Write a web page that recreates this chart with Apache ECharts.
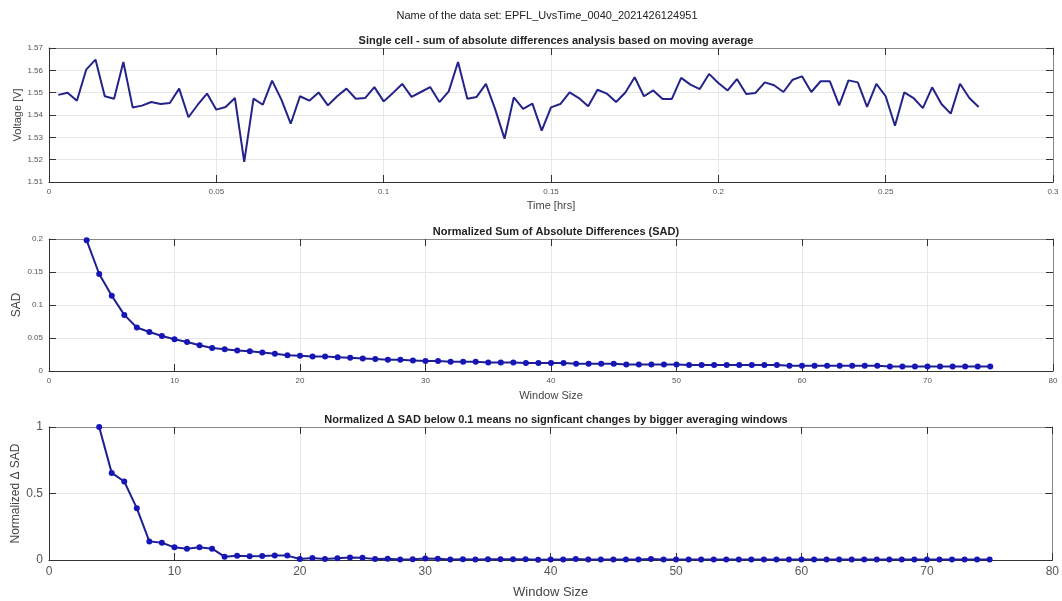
<!DOCTYPE html>
<html>
<head>
<meta charset="utf-8">
<title>SAD analysis</title>
<script src="https://cdn.jsdelivr.net/npm/echarts@6/dist/echarts.min.js"></script>
<style>
  html, body { margin: 0; padding: 0; background: #fff; }
  #chart { width: 1062px; height: 601px; }
</style>
</head>
<body>
<div id="chart"></div>
<script>
// sample times in seconds (10 s sampling), converted to hours below
const timeSec = [
  10, 20, 30, 40, 50, 60, 70, 80, 90, 100,
  110, 120, 130, 140, 150, 160, 170, 180, 190, 200,
  210, 220, 230, 240, 250, 260, 270, 280, 290, 300,
  310, 320, 330, 340, 350, 360, 370, 380, 390, 400,
  410, 420, 430, 440, 450, 460, 470, 480, 490, 500,
  510, 520, 530, 540, 550, 560, 570, 580, 590, 600,
  610, 620, 630, 640, 650, 660, 670, 680, 690, 700,
  710, 720, 730, 740, 750, 760, 770, 780, 790, 800,
  810, 820, 830, 840, 850, 860, 870, 880, 890, 900,
  910, 920, 930, 940, 950, 960, 970, 980, 990, 1000
];
const voltage = [
  1.5490, 1.5500, 1.5464, 1.5603, 1.5648, 1.5484, 1.5473, 1.5637, 1.5434, 1.5442,
  1.5458, 1.5449, 1.5454, 1.5518, 1.5390, 1.5446, 1.5496, 1.5424, 1.5436, 1.5476,
  1.5190, 1.5473, 1.5446, 1.5554, 1.5469, 1.5361, 1.5484, 1.5464, 1.5501, 1.5443,
  1.5484, 1.5518, 1.5473, 1.5476, 1.5525, 1.5461, 1.5499, 1.5539, 1.5481, 1.5503,
  1.5525, 1.5458, 1.5506, 1.5637, 1.5473, 1.5481, 1.5539, 1.5425, 1.5294, 1.5479,
  1.5427, 1.5451, 1.5330, 1.5434, 1.5449, 1.5501, 1.5476, 1.5439, 1.5513, 1.5496,
  1.5458, 1.5501, 1.5569, 1.5484, 1.5510, 1.5472, 1.5472, 1.5566, 1.5536, 1.5516,
  1.5584, 1.5543, 1.5510, 1.5561, 1.5494, 1.5499, 1.5546, 1.5533, 1.5503, 1.5558,
  1.5573, 1.5503, 1.5551, 1.5551, 1.5443, 1.5555, 1.5546, 1.5436, 1.5539, 1.5484,
  1.5352, 1.5501, 1.5476, 1.5431, 1.5524, 1.5449, 1.5406, 1.5540, 1.5476, 1.5436
];

const sadWindow = [
  3, 4, 5, 6, 7, 8, 9, 10, 11, 12, 13, 14, 15, 16, 17, 18, 19, 20,
  21, 22, 23, 24, 25, 26, 27, 28, 29, 30, 31, 32, 33, 34, 35, 36, 37, 38, 39, 40,
  41, 42, 43, 44, 45, 46, 47, 48, 49, 50, 51, 52, 53, 54, 55, 56, 57, 58, 59, 60,
  61, 62, 63, 64, 65, 66, 67, 68, 69, 70, 71, 72, 73, 74, 75
];
const sadValue = [
  0.198, 0.147, 0.114, 0.085, 0.066, 0.059, 0.053, 0.048, 0.044, 0.039, 0.035, 0.033,
  0.031, 0.030, 0.028, 0.026, 0.024, 0.023, 0.022, 0.022, 0.021, 0.020, 0.019, 0.018,
  0.017, 0.017, 0.016, 0.015, 0.015, 0.014, 0.014, 0.014, 0.013, 0.013, 0.013, 0.012,
  0.012, 0.012, 0.012, 0.011, 0.011, 0.011, 0.011, 0.010, 0.010, 0.010, 0.010, 0.010,
  0.009, 0.009, 0.009, 0.009, 0.009, 0.009, 0.009, 0.009, 0.008, 0.008, 0.008, 0.008,
  0.008, 0.008, 0.008, 0.008, 0.007, 0.007, 0.007, 0.007, 0.007, 0.007, 0.007, 0.007,
  0.007
];

const deltaWindow = [
  4, 5, 6, 7, 8, 9, 10, 11, 12, 13, 14, 15, 16, 17, 18, 19, 20,
  21, 22, 23, 24, 25, 26, 27, 28, 29, 30, 31, 32, 33, 34, 35, 36, 37, 38, 39, 40,
  41, 42, 43, 44, 45, 46, 47, 48, 49, 50, 51, 52, 53, 54, 55, 56, 57, 58, 59, 60,
  61, 62, 63, 64, 65, 66, 67, 68, 69, 70, 71, 72, 73, 74, 75
];
const deltaSad = [
  1.000, 0.655, 0.590, 0.390, 0.140, 0.130, 0.095, 0.085, 0.095, 0.085, 0.025, 0.032,
  0.028, 0.030, 0.033, 0.033, 0.008, 0.015, 0.008, 0.013, 0.018, 0.016, 0.008, 0.010,
  0.004, 0.006, 0.012, 0.010, 0.004, 0.006, 0.004, 0.006, 0.005, 0.006, 0.005, 0.002,
  0.003, 0.004, 0.007, 0.004, 0.004, 0.003, 0.004, 0.003, 0.007, 0.003, 0.004, 0.003,
  0.004, 0.003, 0.004, 0.004, 0.003, 0.004, 0.003, 0.004, 0.003, 0.003, 0.004, 0.003,
  0.003, 0.004, 0.003, 0.003, 0.003, 0.004, 0.003, 0.003, 0.003, 0.003, 0.003, 0.003
];

const FONT = '"Liberation Sans", Arial, sans-serif';
const AXIS_DARK = '#333';
const AXIS_LIGHT = '#888';
const GRID_LINE = '#e6e6e6';

// main axes (bottom / left) with labels and grid
function xMain(gridIndex, min, max, interval, name, nameGap, fontSize, nameSize) {
  return {
    type: 'value', gridIndex, min, max, interval, position: 'bottom',
    name, nameLocation: 'middle', nameGap, nameMoveOverlap: false,
    nameTextStyle: { color: '#444', fontSize: nameSize, fontFamily: FONT },
    axisLine: { show: true, onZero: false, lineStyle: { color: AXIS_DARK, width: 1 } },
    axisTick: { show: true, inside: true, length: 7, lineStyle: { color: AXIS_DARK } },
    axisLabel: { color: '#555', fontSize, fontFamily: FONT, margin: 6 },
    splitLine: { show: true, lineStyle: { color: GRID_LINE } }
  };
}
function yMain(gridIndex, min, max, interval, name, nameGap, fontSize, nameSize) {
  return {
    type: 'value', gridIndex, min, max, interval, position: 'left',
    name, nameLocation: 'middle', nameGap, nameMoveOverlap: false,
    nameTextStyle: { color: '#444', fontSize: nameSize, fontFamily: FONT },
    axisLine: { show: true, onZero: false, lineStyle: { color: AXIS_DARK, width: 1 } },
    axisTick: { show: true, inside: true, length: 7, lineStyle: { color: AXIS_DARK } },
    axisLabel: { color: '#555', fontSize, fontFamily: FONT, margin: 6 },
    splitLine: { show: true, lineStyle: { color: GRID_LINE } }
  };
}
// mirrored box axes (top / right), ticks only
function xBox(gridIndex, min, max, interval) {
  return {
    type: 'value', gridIndex, min, max, interval, position: 'top',
    axisLine: { show: true, onZero: false, lineStyle: { color: AXIS_LIGHT } },
    axisTick: { show: true, inside: true, length: 7, lineStyle: { color: AXIS_DARK } },
    axisLabel: { show: false }, splitLine: { show: false }
  };
}
function yBox(gridIndex, min, max, interval) {
  return {
    type: 'value', gridIndex, min, max, interval, position: 'right',
    axisLine: { show: true, onZero: false, lineStyle: { color: AXIS_LIGHT } },
    axisTick: { show: true, inside: true, length: 7, lineStyle: { color: AXIS_DARK } },
    axisLabel: { show: false }, splitLine: { show: false }
  };
}

const subTitle = (text, top) => ({
  text, left: 551, top, textAlign: 'center',
  textStyle: { fontSize: 11, fontWeight: 'bold', color: '#222', fontFamily: FONT }
});

const chart = echarts.init(document.getElementById('chart'));

chart.setOption({
  animation: false,
  backgroundColor: '#fff',
  title: [
    {
      text: 'Name of the data set: EPFL_UvsTime_0040_2021426124951',
      left: 542, top: 5, textAlign: 'center',
      textStyle: { fontSize: 11, fontWeight: 'normal', color: '#222', fontFamily: FONT }
    },
    subTitle('Single cell - sum of absolute differences analysis based on moving average', 30),
    subTitle('Normalized Sum of Absolute Differences (SAD)', 221),
    subTitle('Normalized \u0394 SAD below 0.1 means no signficant changes by bigger averaging windows', 409)
  ],
  grid: [
    { left: 49, right: 9, top: 48, height: 134 },
    { left: 49, right: 9, top: 239, height: 132 },
    { left: 49, right: 9, top: 427, height: 133 }
  ],
  xAxis: [
    xMain(0, 0, 0.3, 0.05, 'Time [hrs]', 18, 8, 11),
    xMain(1, 0, 80, 10, 'Window Size', 19, 8, 11),
    xMain(2, 0, 80, 10, 'Window Size', 26, 12, 13),
    xBox(0, 0, 0.3, 0.05),
    xBox(1, 0, 80, 10),
    xBox(2, 0, 80, 10)
  ],
  yAxis: [
    yMain(0, 1.51, 1.57, 0.01, 'Voltage [V]', 26, 8, 11),
    yMain(1, 0, 0.2, 0.05, 'SAD', 26, 8, 12),
    yMain(2, 0, 1, 0.5, 'Normalized \u0394 SAD', 27, 12, 12),
    yBox(0, 1.51, 1.57, 0.01),
    yBox(1, 0, 0.2, 0.05),
    yBox(2, 0, 1, 0.5)
  ],
  series: [
    {
      type: 'line', xAxisIndex: 0, yAxisIndex: 0,
      data: timeSec.map((s, i) => [s / 3600, voltage[i]]),
      showSymbol: false, symbol: 'none',
      lineStyle: { color: '#23238a', width: 2 }
    },
    {
      type: 'line', xAxisIndex: 1, yAxisIndex: 1,
      data: sadWindow.map((w, i) => [w, sadValue[i]]),
      symbol: 'circle', symbolSize: 6,
      itemStyle: { color: '#1515b8' },
      lineStyle: { color: '#1f1f8f', width: 2 }
    },
    {
      type: 'line', xAxisIndex: 2, yAxisIndex: 2,
      data: deltaWindow.map((w, i) => [w, deltaSad[i]]),
      symbol: 'circle', symbolSize: 6,
      itemStyle: { color: '#1515b8' },
      lineStyle: { color: '#1f1f8f', width: 2 }
    }
  ]
});

window.addEventListener('resize', () => chart.resize());
</script>
</body>
</html>
